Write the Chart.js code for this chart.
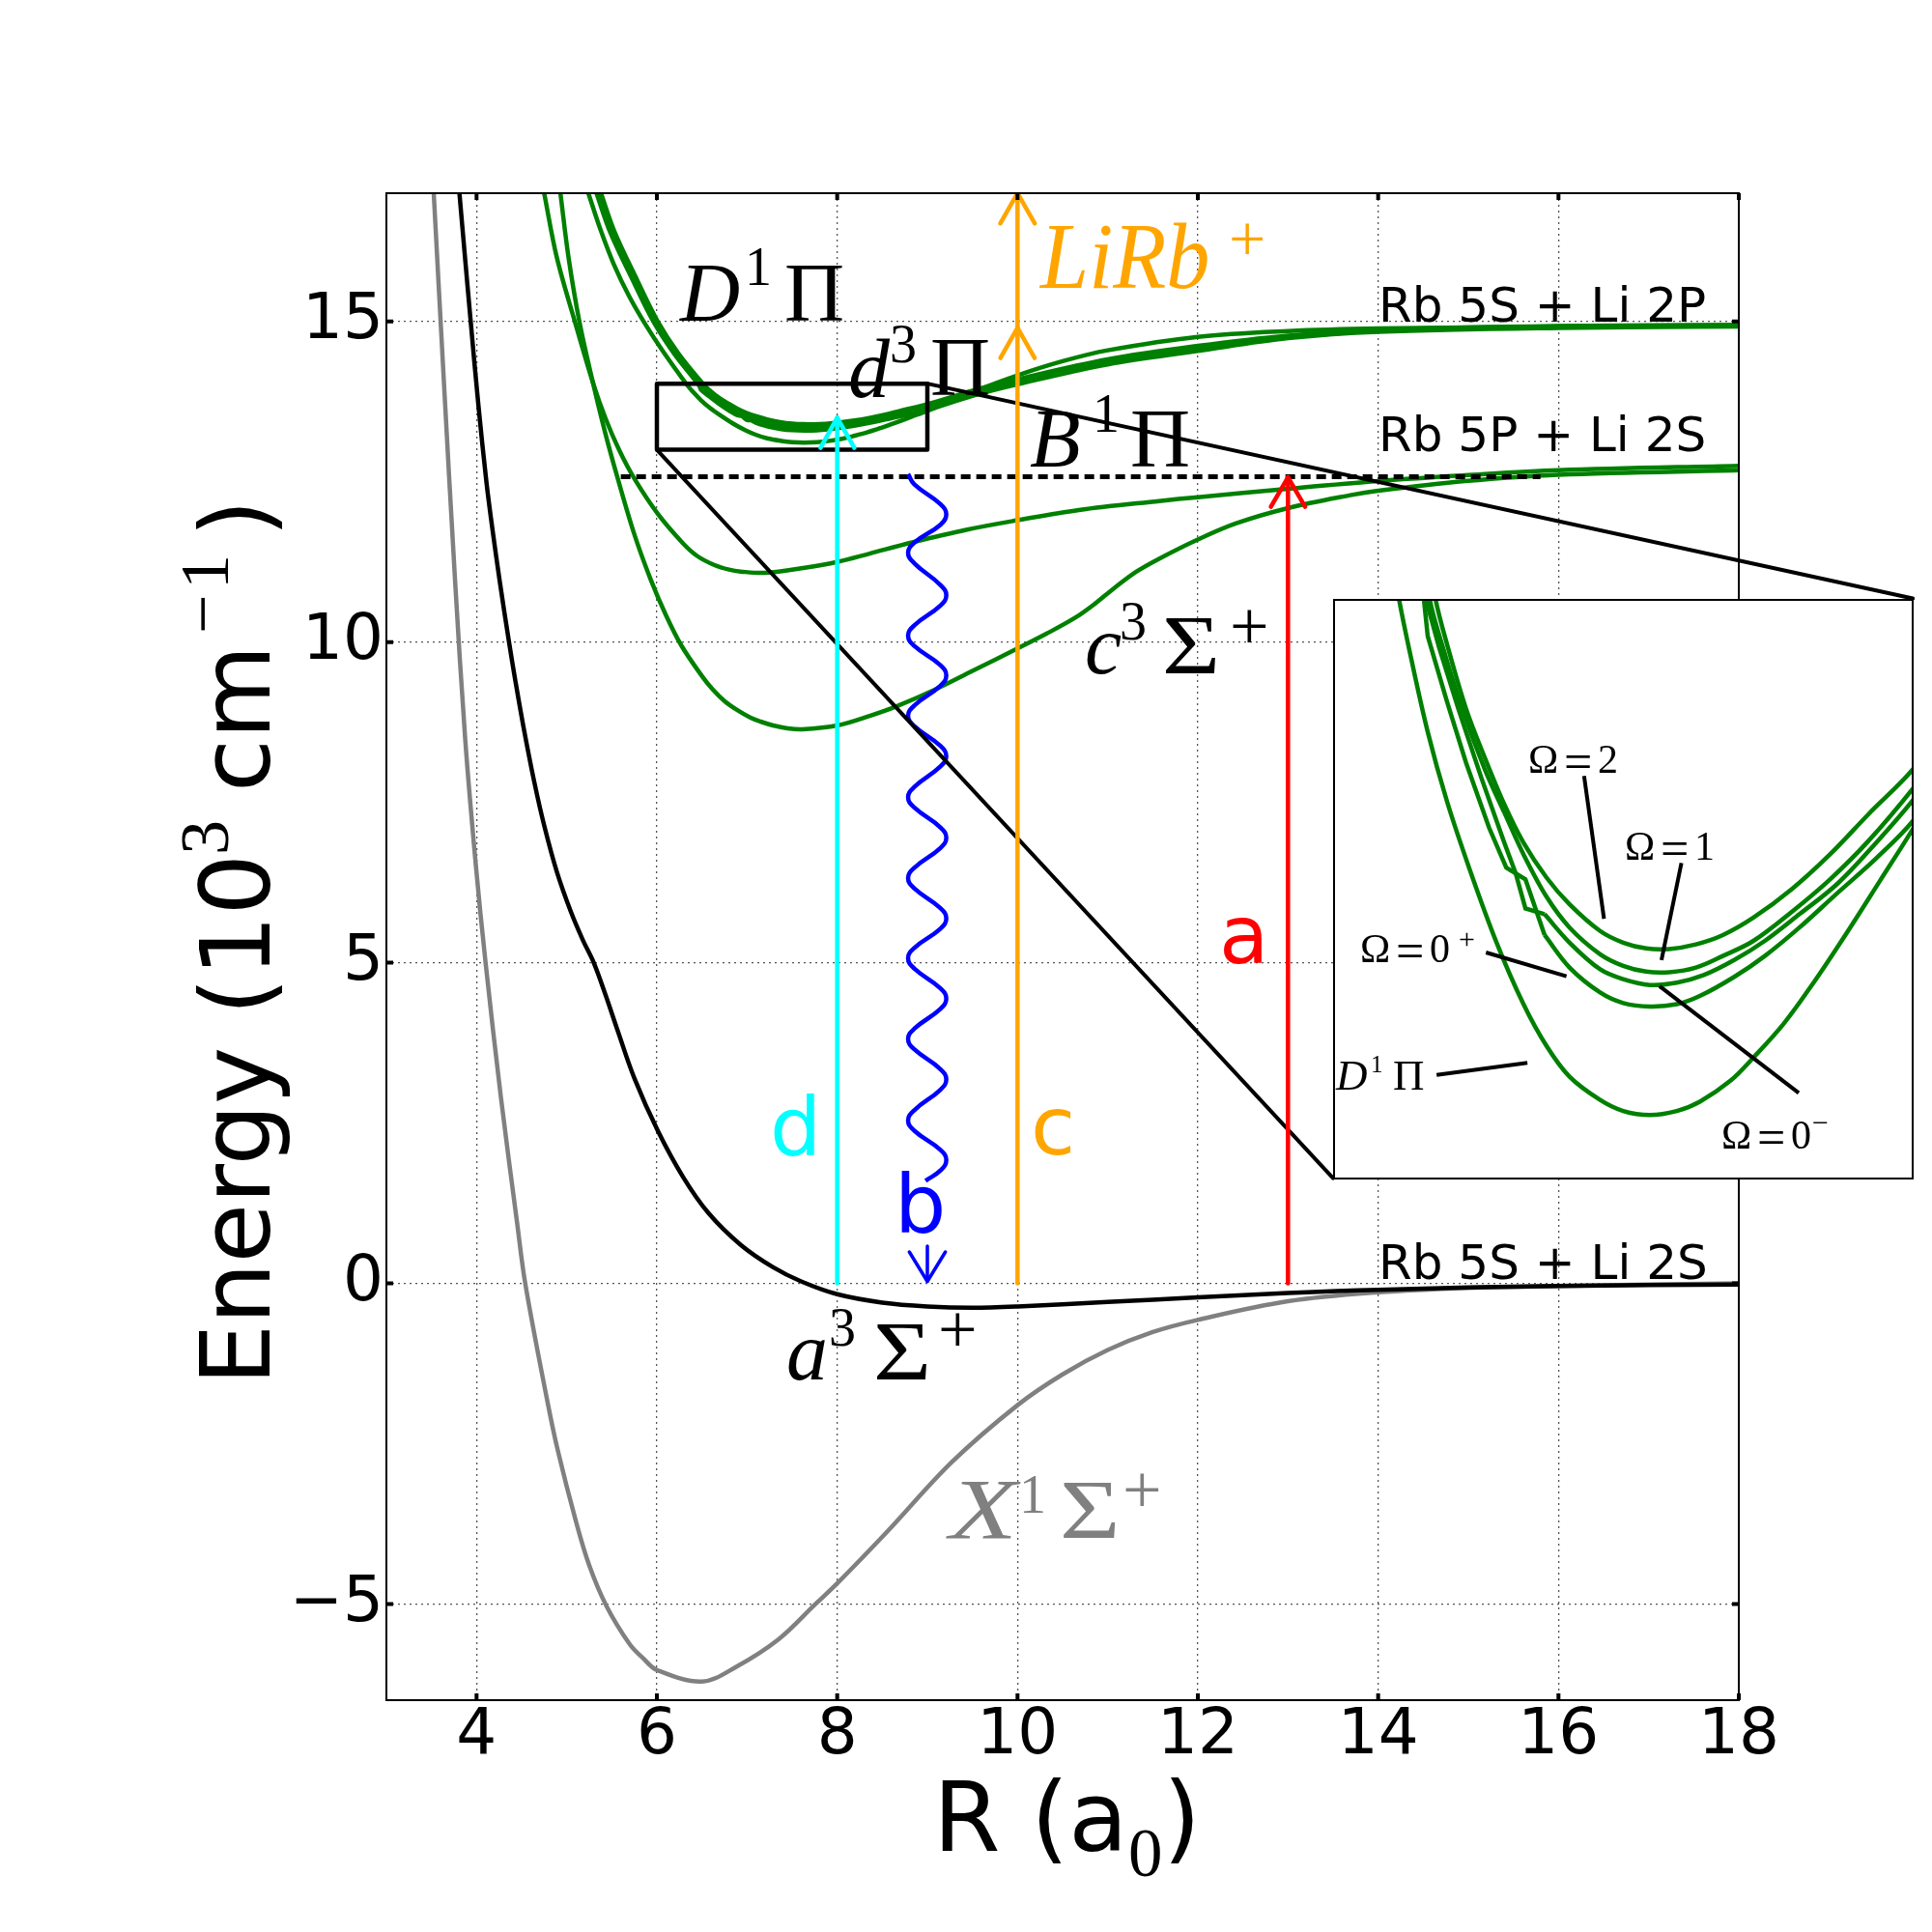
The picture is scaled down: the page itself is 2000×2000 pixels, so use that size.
<!DOCTYPE html>
<html><head><meta charset="utf-8">
<style>
html,body{margin:0;padding:0;background:#fff}
#wrap{position:relative;width:2000px;height:2000px;background:#fff}
#main{position:absolute;left:0;top:0}
#inset{position:absolute;left:1380px;top:620px;background:#fff}
</style>
<script src="https://cdn.jsdelivr.net/npm/chart.js@4"></script>
</head><body><div id="wrap"><canvas id="main" width="2000" height="2000"></canvas><canvas id="inset" width="601" height="601"></canvas></div>
<script>
// axes
const xTicks=[4,6,8,10,12,14,16,18];
const yTicks=[-5,0,5,10,15];
// X 1Sigma+ (grey)
const xSigmaR=[3.525,3.64,3.76,3.875,3.99,4.10,4.27,4.45,4.54,4.78,4.9,5.1,5.25,5.44,5.7,5.85,6,6.5,6.88,7.35,7.76,8,8.55,9.27,10,10.5,11,11.5,12,13,14,15,16,18];
const xSigmaE=[17,14,11,8.47,6.55,5,2.9,.94,0,-1.8,-2.6,-3.7,-4.4,-5.03,-5.63,-5.85,-6.03,-6.21,-5.98,-5.55,-5,-4.68,-3.88,-2.79,-1.9,-1.42,-1.04,-.76,-.57,-.28,-.14,-.07,-.04,0];
// a 3Sigma+ (black)
const aSigmaR=[3.81,3.875,3.935,4.02,4.11,4.18,4.26,4.36,4.43,4.52,4.64,4.75,4.89,5.05,5.18,5.3,5.43,5.57,5.75,6.01,6.29,6.57,6.93,7.29,7.6,8,8.5,9,9.5,10,11,12,13,14,16,18];
const aSigmaE=[17,15.95,15,13.7,12.49,11.72,10.92,10,9.4,8.68,7.82,7.14,6.42,5.78,5.35,5,4.5,3.92,3.2,2.38,1.66,1.1,.6,.25,.03,-.17,-.3,-.36,-.38,-.36,-.29,-.22,-.15,-.1,-.04,-.02];
// c 3Sigma+
const cSigmaR=[4.93,5.02,5.14,5.29,5.42,5.56,5.75,5.93,6.1,6.27,6.5,6.62,6.75,6.88,7.04,7.15,7.29,7.45,7.61,8,8.36,8.66,9.07,9.5,10,10.32,10.64,10.86,11.07,11.32,11.57,12,12.42,13,13.69,14,14.96,16,18];
const cSigmaE=[17,16,15,14.05,13.3,12.58,11.68,10.98,10.42,9.95,9.47,9.26,9.08,8.95,8.82,8.76,8.7,8.655,8.64,8.7,8.85,9,9.25,9.55,9.9,10.13,10.38,10.6,10.84,11.1,11.3,11.6,11.85,12.09,12.29,12.36,12.51,12.61,12.68];
// B 1Pi
const bPiR=[4.75,4.89,5.09,5.29,5.43,5.58,5.75,6.01,6.29,6.45,6.64,6.8,6.93,7.2,7.64,8,8.36,8.82,9.43,10,10.68,11.57,12,13,14,14.96,16,18];
const bPiE=[17,16,15,14.05,13.49,13,12.55,12,11.54,11.34,11.2,11.13,11.1,11.08,11.16,11.25,11.38,11.55,11.75,11.9,12.06,12.2,12.26,12.39,12.51,12.6,12.68,12.75];
// D 1Pi
const dPiR=[5.24,5.37,5.52,5.69,5.875,6.07,6.335,6.40,6.489,6.588,6.707,6.845,6.984,7.103,7.222,7.38,7.499,7.637,7.776,7.895,8.053,8.172,8.33,8.489,8.647,8.825,9,9.2,9.5,10,10.5,11,12,13,14,16,18];
const dPiE=[17,16.45,15.9,15.4,14.95,14.53,14.01,13.903,13.771,13.652,13.533,13.408,13.302,13.23,13.177,13.137,13.118,13.111,13.118,13.134,13.17,13.21,13.269,13.342,13.421,13.514,13.606,13.72,13.9,14.16,14.38,14.55,14.76,14.85,14.89,14.92,14.94];
// d 3Pi components
const om2R=[5.38,5.53,5.78,6.01,6.24,6.529,6.588,6.687,6.786,6.885,6.984,7.103,7.222,7.38,7.499,7.618,7.736,7.875,8.014,8.172,8.37,8.568,8.766,9,9.5,10,11,12,13,14,16,18];
const om2E=[17,16.4,15.65,15,14.5,14,13.923,13.811,13.725,13.646,13.58,13.52,13.474,13.428,13.408,13.398,13.397,13.405,13.421,13.451,13.5,13.56,13.629,13.708,13.92,14.1,14.41,14.62,14.78,14.87,14.93,14.945];
const om1R=[5.37,5.52,5.77,6,6.23,6.499,6.568,6.667,6.786,6.885,6.984,7.103,7.222,7.38,7.499,7.618,7.736,7.875,8.014,8.172,8.37,8.568,8.766,9,9.5,10,11,12,13,14,16,18];
const om1E=[17,16.4,15.65,15,14.5,14,13.916,13.811,13.705,13.632,13.56,13.487,13.434,13.388,13.368,13.358,13.357,13.365,13.385,13.411,13.461,13.517,13.583,13.675,13.89,14.07,14.38,14.59,14.76,14.86,14.92,14.94];
const om0pR=[5.35,5.5,5.75,5.98,6.21,6.479,6.548,6.647,6.766,6.885,6.944,6.994,7.093,7.222,7.38,7.499,7.637,7.776,7.915,8.073,8.231,8.41,8.608,8.806,9,9.5,10,11,12,13,14,16,18];
const om0pE=[17,16.4,15.65,15,14.5,14,13.916,13.811,13.692,13.58,13.527,13.467,13.457,13.408,13.362,13.345,13.335,13.339,13.352,13.378,13.411,13.457,13.51,13.58,13.655,13.87,14.05,14.36,14.57,14.75,14.85,14.91,14.93];
const om0mR=[5.33,5.48,5.73,5.96,6.19,6.469,6.489,6.588,6.687,6.806,6.895,6.994,7.093,7.222,7.38,7.499,7.637,7.776,7.895,8.073,8.231,8.41,8.608,8.806,9,9.5,10,11,12,13,14,16,18];
const om0mE=[17,16.4,15.65,15,14.5,14,13.936,13.824,13.718,13.606,13.537,13.517,13.421,13.365,13.322,13.304,13.298,13.302,13.316,13.349,13.385,13.434,13.494,13.553,13.619,13.84,14.02,14.33,14.54,14.74,14.84,14.9,14.92];
// threshold line
const dashR=[5.6,15.8], dashE=[12.58,12.58];
// arrows
const arrowAR=[13,13], arrowAE=[0,12.57], headAR=[12.81,13,13.19], headAE=[12.11,12.57,12.11];
const arrowCR=[10,10], arrowCE=[0,14.9], headCR=[9.81,10,10.19], headCE=[14.43,14.9,14.43];
const arrowC2R=[10,10], arrowC2E=[14.9,17], headC2R=[9.81,10,10.19], headC2E=[16.53,17,16.53];
const arrowDR=[8,8], arrowDE=[0,13.5], headDR=[7.815,8,8.19], headDE=[13.03,13.5,13.03];
const arrowBR=[9,9], arrowBE=[.58,.03], headBR=[8.8,9,9.2], headBE=[.49,.03,.49];
const waveR=[8.786,8.855,9.145,9.21,9.145,8.855,8.786,8.855,9.145,9.21,9.145,8.855,8.786,8.855,9.145,9.21,9.145,8.855,8.786,8.855,9.145,9.21,9.145,8.855,8.786,8.855,9.145,9.21,9.145,8.855,8.786,8.855,9.145,9.21,9.145,8.855,8.786,8.855,9.145,9.21,9.145,8.855,8.786,8.855,9.145,9.21,9.145,8.855,8.786,8.855,9.145,9.21,9.145,8.98];
const waveE=[12.62,12.46,12.15,11.99,11.83,11.55,11.39,11.23,10.89,10.73,10.57,10.26,10.1,9.94,9.64,9.48,9.32,9.01,8.85,8.69,8.38,8.22,8.06,7.74,7.58,7.42,7.11,6.95,6.79,6.48,6.32,6.16,5.85,5.69,5.53,5.23,5.07,4.91,4.6,4.44,4.28,3.97,3.81,3.65,3.34,3.18,3.02,2.7,2.54,2.38,2.08,1.92,1.76,1.6];
// zoom box and connectors
const boxR=[6,9,9,6,6], boxE=[13,13,14.03,14.03,13];
const linkLowR=[6,13.5], linkLowE=[13,1.64];
const linkHighR=[9,19.93], linkHighE=[14.03,10.68];
// inset pointer lines
const ptr2R=[7.297,7.4], ptr2E=[13.695,13.449];
const ptr1R=[7.8,7.697], ptr1E=[13.545,13.378];
const ptr0pR=[6.79,7.206], ptr0pE=[13.391,13.35];
const ptrDR=[6.535,7.004], ptrDE=[13.18,13.201];
const ptr0mR=[7.687,8.406], ptr0mE=[13.333,13.149];

const pts=(r,e)=>r.map((x,i)=>({x,y:e[i]}));
const curve=(r,e,c,t)=>({data:pts(r,e),borderColor:c,borderWidth:4.5,pointRadius:0,tension:t===undefined?.35:t,fill:false});
const straight=(r,e,c,w,extra)=>Object.assign({data:pts(r,e),borderColor:c,borderWidth:w||4.5,pointRadius:0,tension:0,fill:false,borderCapStyle:'round',borderJoinStyle:'round'},extra||{});
const GREEN='#008000',ORANGE='#ffa500',CYAN='#00ffff',SER='"Liberation Serif"',SANS='"DejaVu Sans"';

const run=(t,x,y,size,italic,font,sx)=>({t,x,y,size,italic:!!italic,font:font||SER,sx:sx||1});
const up=(t,bx,py,size,font)=>({t,x:bx,y:py,size,italic:false,font:font||SANS,sx:1,rot:true});
const mainLabels=[
 {c:'#000',r:[run('R (a',966,1916,100,0,SANS),run('0',1168,1942,71),run(')',1204,1916,100,0,SANS)]},
 {c:'#000',r:[up('Energy',279,1434,100),up('(',279,1051,100),up('10',279,1011,100),up('3',236,885,72,SER),up('cm',279,820,100),up('\u2212',234,656,72,SER),up('1',236,610,72,SER),up(')',279,556,100)]},
 {c:'#000',r:[run('D',704,332,86,1),run('1',771,295,56),run('\u03a0',812,332,86)]},
 {c:'#000',r:[run('d',878,411,86,1),run('3',921,375,56),run('\u03a0',963,409,86)]},
 {c:'#000',r:[run('B',1066,483,86,1),run('1',1131,447,56),run('\u03a0',1170,483,86)]},
 {c:ORANGE,r:[run('LiRb',1077,298,97,1,SER,.93),run('+',1272,270,68)]},
 {c:'#000',r:[run('c',1123,697,86,1),run('3',1159,662,56),run('\u03a3',1203,697,86,0,SER,1.2),run('+',1273,672,72)]},
 {c:'#000',r:[run('a',814,1428,86,1),run('3',858,1393,56),run('\u03a3',904,1428,86,0,SER,1.2),run('+',971,1400,72)]},
 {c:'#808080',r:[run('X',983,1592,88,1,SER,1.3),run('1',1055,1566,56),run('\u03a3',1097,1592,86,0,SER,1.25),run('+',1162,1566,72)]},
 {c:'#ff0000',r:[run('a',1262,997,84,0,SANS)]},
 {c:'#0000ff',r:[run('b',926,1276,84,0,SANS)]},
 {c:ORANGE,r:[run('c',1067,1195,84,0,SANS)]},
 {c:CYAN,r:[run('d',797,1196,84,0,SANS)]},
 {c:'#000',r:[run('Rb 5S + Li 2P',1427,333,50,0,SANS)]},
 {c:'#000',r:[run('Rb 5P + Li 2S',1427,467,50,0,SANS)]},
 {c:'#000',r:[run('Rb 5S + Li 2S',1427,1324,50,0,SANS)]}
];
const om=(x,y,d)=>[run('\u03a9',x,y,42),run('=',x+37,y+6,52),run(d,x+72,y,42)];
const insetLabels=[
 {c:'#000',r:om(1582,800,'2')},
 {c:'#000',r:om(1682,890,'1')},
 {c:'#000',r:om(1408,996,'0').concat([run('+',1510,982,30)])},
 {c:'#000',r:om(1782,1189,'0').concat([run('\u2212',1876,1172,30)])},
 {c:'#000',r:[run('D',1383,1128,45,1),run('1',1419,1110,25),run('\u03a0',1442,1128,45)]}
];
function drawLabels(ctx,list,ox,oy){
 ctx.save();ctx.textBaseline='alphabetic';ctx.textAlign='left';
 list.forEach(l=>{ctx.fillStyle=l.c;l.r.forEach(p=>{
  ctx.save();ctx.font=(p.italic?'italic ':'')+p.size+'px '+p.font;
  ctx.translate(p.x-ox,p.y-oy);
  if(p.rot)ctx.rotate(-Math.PI/2);
  ctx.scale(p.sx,1);ctx.fillText(p.t,0,0);ctx.restore();
 });});
 ctx.restore();
}
const frame={id:'frame',afterDatasetsDraw(chart){
 const {ctx,chartArea:a,scales:{x,y}}=chart;
 ctx.save();ctx.strokeStyle='#000';ctx.lineCap='butt';
 ctx.lineWidth=4;
 xTicks.forEach(v=>{const p=x.getPixelForValue(v);ctx.beginPath();ctx.moveTo(p,a.bottom);ctx.lineTo(p,a.bottom-7);ctx.moveTo(p,a.top);ctx.lineTo(p,a.top+7);ctx.stroke();});
 yTicks.forEach(v=>{const p=y.getPixelForValue(v);ctx.beginPath();ctx.moveTo(a.left,p);ctx.lineTo(a.left+7,p);ctx.moveTo(a.right,p);ctx.lineTo(a.right-7,p);ctx.stroke();});
 ctx.lineWidth=2;ctx.strokeRect(a.left,a.top,a.right-a.left,a.bottom-a.top);
 ctx.restore();
 drawLabels(ctx,mainLabels,0,0);
}};
new Chart(document.getElementById('main'),{
 type:'line',
 data:{datasets:[
  straight(arrowCR,arrowCE,ORANGE),straight(headCR,headCE,ORANGE),
  straight(arrowC2R,arrowC2E,ORANGE),straight(headC2R,headC2E,ORANGE),
  straight(arrowDR,arrowDE,CYAN),straight(headDR,headDE,CYAN),
  straight(arrowAR,arrowAE,'#ff0000'),straight(headAR,headAE,'#ff0000'),
  straight(arrowBR,arrowBE,'#0000ff',3.5),straight(headBR,headBE,'#0000ff',3.5),
  straight(linkLowR,linkLowE,'#000',4,{clip:false}),straight(linkHighR,linkHighE,'#000',4,{clip:false}),
  straight(boxR,boxE,'#000',4.5),
  {data:pts(waveR,waveE),borderColor:'#0000ff',borderWidth:4.5,pointRadius:0,tension:.45,fill:false},
  straight(dashR,dashE,'#000',5,{borderDash:[10,6],borderCapStyle:'butt'}),
  curve(aSigmaR,aSigmaE,'#000'),curve(xSigmaR,xSigmaE,'#808080'),
  curve(cSigmaR,cSigmaE,GREEN),curve(bPiR,bPiE,GREEN),curve(dPiR,dPiE,GREEN),
  curve(om2R,om2E,GREEN),curve(om1R,om1E,GREEN),curve(om0pR,om0pE,GREEN),curve(om0mR,om0mE,GREEN)
 ]},
 options:{
  responsive:false,animation:false,devicePixelRatio:1,
  layout:{padding:{top:200,right:200,left:0,bottom:0}},
  plugins:{legend:{display:false},tooltip:{enabled:false},title:{display:false}},
  scales:{
   x:{type:'linear',min:3,max:18,
    afterBuildTicks:s=>{s.ticks=xTicks.map(value=>({value}));},
    afterFit:s=>{s.height=240;},
    grid:{color:'#555',lineWidth:1.3,drawTicks:false},
    border:{display:false,dash:[2,4]},
    ticks:{font:{family:'DejaVu Sans',size:66},color:'#000',padding:-2,maxRotation:0,autoSkip:false,callback:v=>String(v)}
   },
   y:{type:'linear',min:-6.5,max:17,
    afterBuildTicks:s=>{s.ticks=yTicks.map(value=>({value}));},
    afterFit:s=>{s.width=400;},
    grid:{color:'#555',lineWidth:1.3,drawTicks:false},
    border:{display:false,dash:[2,4]},
    ticks:{font:{family:'DejaVu Sans',size:66},color:'#000',padding:3,autoSkip:false,callback:v=>v<0?'\u2212'+(-v):String(v)}
   }
  }
 },
 plugins:[frame]
});
const insetFrame={id:'insetFrame',afterDatasetsDraw(chart){
 const {ctx,chartArea:a}=chart;
 ctx.save();ctx.strokeStyle='#000';ctx.lineWidth=2;ctx.strokeRect(a.left+1,a.top+1,a.right-a.left-2,a.bottom-a.top-2);ctx.restore();
 drawLabels(ctx,insetLabels,1380,620);
}};
new Chart(document.getElementById('inset'),{
 type:'line',
 data:{datasets:[
  straight(ptr2R,ptr2E,'#000',4,{borderCapStyle:'butt'}),straight(ptr1R,ptr1E,'#000',4,{borderCapStyle:'butt'}),straight(ptr0pR,ptr0pE,'#000',4,{borderCapStyle:'butt'}),straight(ptrDR,ptrDE,'#000',4,{borderCapStyle:'butt'}),straight(ptr0mR,ptr0mE,'#000',4,{borderCapStyle:'butt'}),
  curve(dPiR,dPiE,GREEN),curve(om2R,om2E,GREEN),curve(om1R,om1E,GREEN),
  curve(om0pR.slice(0,13),om0pE.slice(0,13),GREEN,0),curve(om0pR.slice(12),om0pE.slice(12),GREEN),
  curve(om0mR.slice(0,13),om0mE.slice(0,13),GREEN,0),curve(om0mR.slice(12),om0mE.slice(12),GREEN)
 ]},
 options:{responsive:false,animation:false,devicePixelRatio:1,layout:{padding:0},
  plugins:{legend:{display:false},tooltip:{enabled:false}},
  scales:{x:{type:'linear',min:6,max:9,display:false},y:{type:'linear',min:13,max:14,display:false}}},
 plugins:[insetFrame]
});
</script></body></html>
